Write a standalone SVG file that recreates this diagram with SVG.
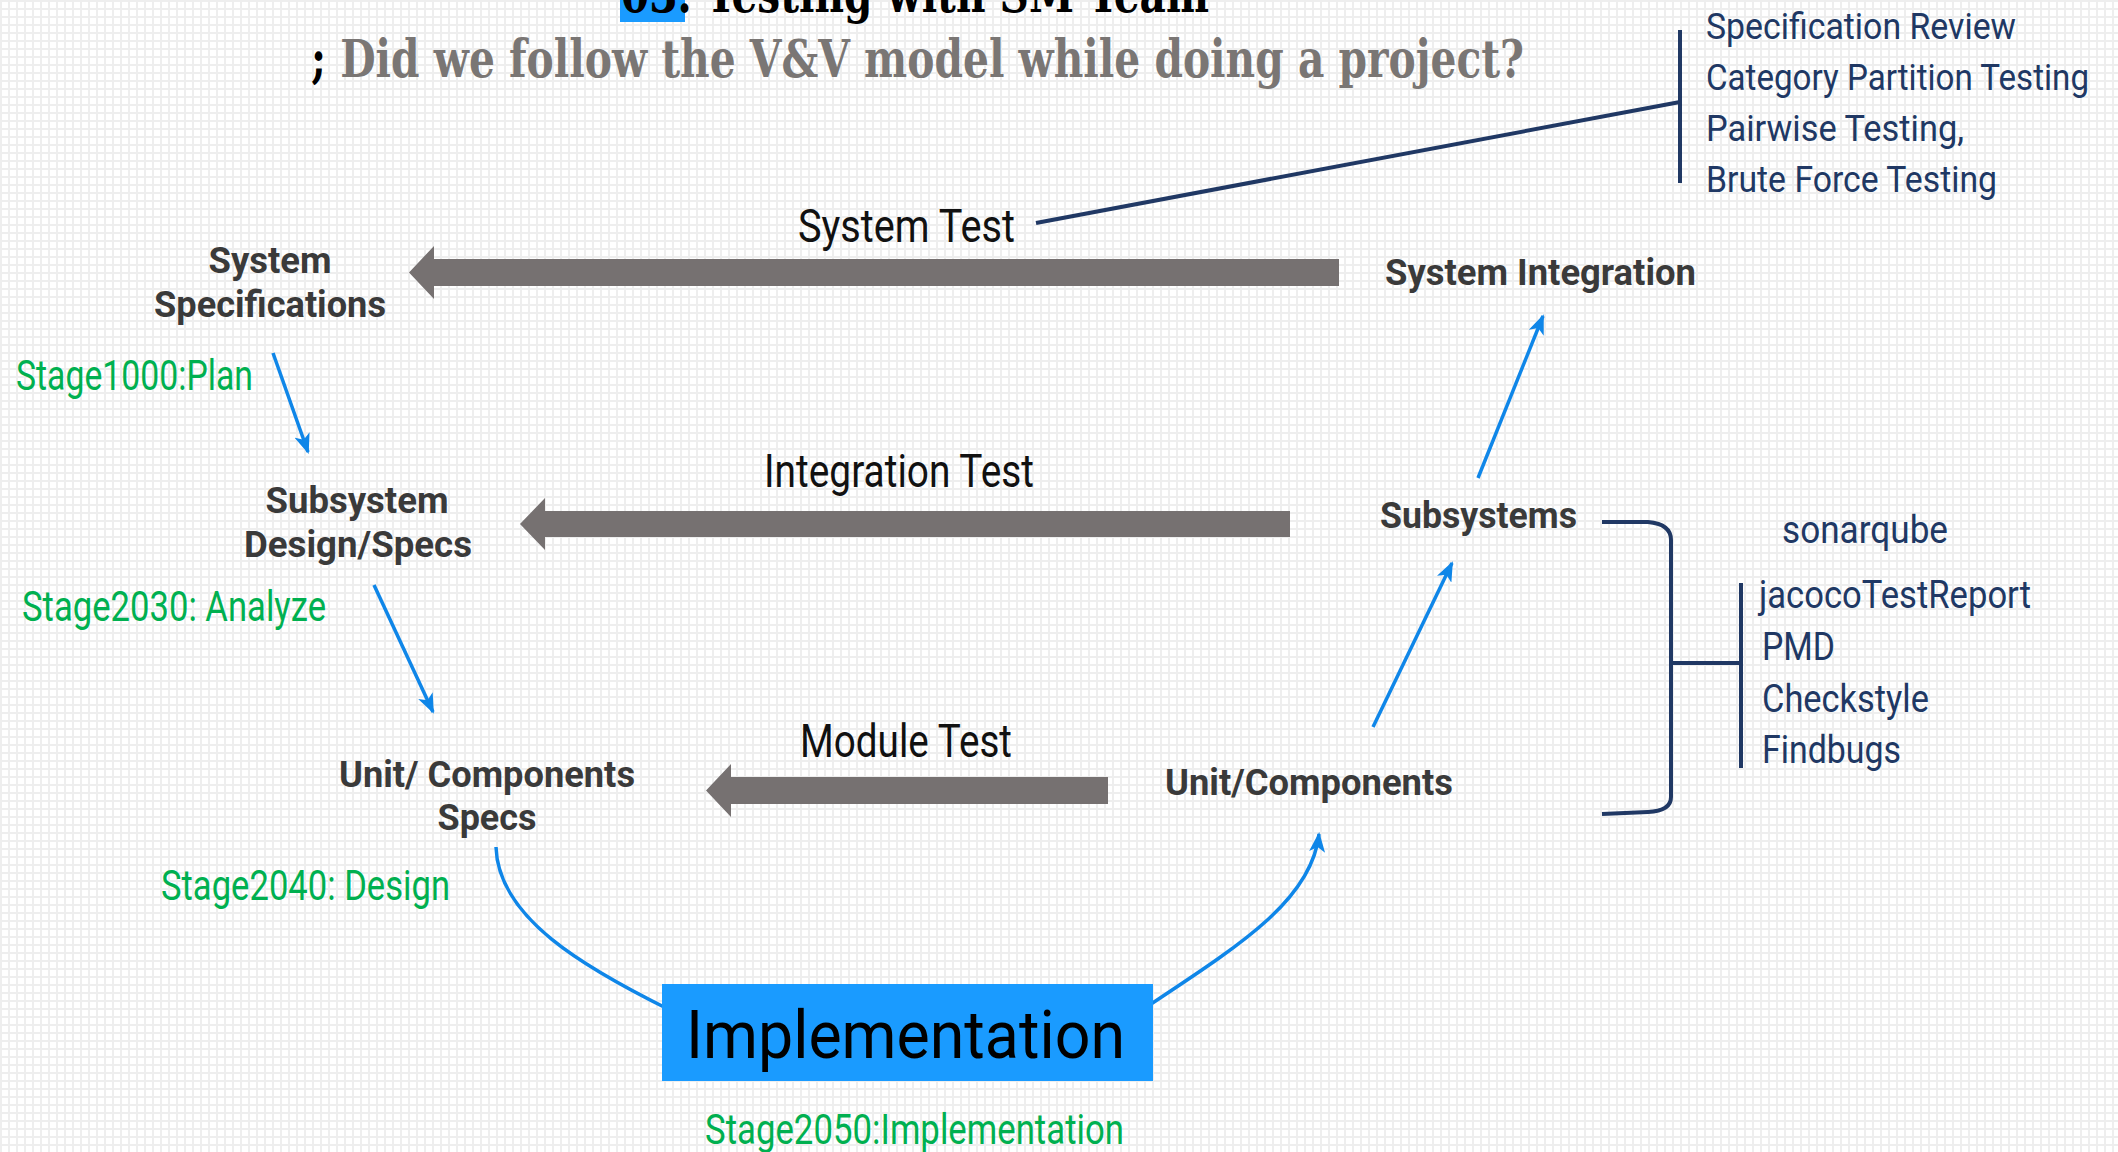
<svg xmlns="http://www.w3.org/2000/svg" width="2118" height="1152" viewBox="0 0 2118 1152">
<defs>
<pattern id="grid" width="8" height="8" patternUnits="userSpaceOnUse">
<rect width="8" height="8" fill="#ffffff"/>
<path d="M0,1 H8 M1,0 V8" stroke="#eeeeee" stroke-width="2" fill="none"/>
</pattern>
<marker id="bh" markerUnits="userSpaceOnUse" markerWidth="22" markerHeight="16" refX="18" refY="8" orient="auto">
<path d="M0,0 L20,8 L0,16 L5,8 Z" fill="#0f86e8"/>
</marker>
<style>
.node{font-family:Roboto,"Liberation Sans",sans-serif;font-weight:700;font-size:36px;fill:#3a3a3a;}
.test{font-family:Roboto,"Liberation Sans",sans-serif;font-size:47px;fill:#111111;}
.stage{font-family:Roboto,"Liberation Sans",sans-serif;font-size:42px;fill:#00b050;}
.navy{font-family:Roboto,"Liberation Sans",sans-serif;font-size:38px;fill:#203864;}
.list{font-size:36px;}
.blue{stroke:#0f86e8;stroke-width:3.5;fill:none;}
.navyline{stroke:#203864;stroke-width:4;fill:none;}
.gray{fill:#767171;}
</style>
</defs>
<rect width="2118" height="1152" fill="url(#grid)"/>

<g id="title">
<rect x="620" y="0" width="65" height="22" fill="#1a9bff"/>
<text x="621" y="12" font-family="'DejaVu Serif','Liberation Serif',serif" font-weight="700" font-size="52" fill="#000" textLength="588" lengthAdjust="spacingAndGlyphs">03. Testing with SM Team</text>
<text x="311" y="77" font-family="'DejaVu Serif','Liberation Serif',serif" font-weight="700" font-size="52" fill="#7a7674" textLength="1213" lengthAdjust="spacingAndGlyphs"><tspan fill="#000">;</tspan> Did we follow the V&amp;V model while doing a project?</text>
</g>

<g id="connectors">
<path class="gray" d="M1339,259 L434,259 L434,246 L409,272.5 L434,299 L434,286 L1339,286 Z"/>
<path class="gray" d="M1290,511 L545,511 L545,498 L520,524 L545,550 L545,537 L1290,537 Z"/>
<path class="gray" d="M1108,777 L731,777 L731,764 L706,790.5 L731,817 L731,804 L1108,804 Z"/>
<line class="blue" x1="273" y1="353" x2="308" y2="452" marker-end="url(#bh)"/>
<line class="blue" x1="374" y1="585" x2="433" y2="712" marker-end="url(#bh)"/>
<line class="blue" x1="1373" y1="727" x2="1452" y2="563" marker-end="url(#bh)"/>
<line class="blue" x1="1478" y1="478" x2="1543" y2="316" marker-end="url(#bh)"/>
<path class="blue" d="M496,847 C498,918 585,968 670,1010"/>
<path class="blue" d="M1145,1008 C1240,945 1312,900 1319,834" marker-end="url(#bh)"/>
<line class="navyline" x1="1036" y1="223" x2="1680" y2="102"/>
<line class="navyline" x1="1680" y1="30" x2="1680" y2="183"/>
<path class="navyline" d="M1602,522 L1648,522 Q1671,524 1671,540 L1671,797 Q1671,811 1648,812 L1602,814"/>
<line class="navyline" x1="1671" y1="663" x2="1741" y2="663"/>
<line class="navyline" x1="1741" y1="583" x2="1741" y2="768"/>
</g>

<g id="system-specifications">
<text class="node" x="270" y="273" text-anchor="middle" textLength="123" lengthAdjust="spacingAndGlyphs">System</text>
<text class="node" x="270" y="317" text-anchor="middle" textLength="232" lengthAdjust="spacingAndGlyphs">Specifications</text>
<text class="stage" x="16" y="390" textLength="237" lengthAdjust="spacingAndGlyphs">Stage1000:Plan</text>
</g>

<g id="subsystem-design">
<text class="node" x="357" y="513" text-anchor="middle" textLength="183" lengthAdjust="spacingAndGlyphs">Subsystem</text>
<text class="node" x="358" y="557" text-anchor="middle" textLength="228" lengthAdjust="spacingAndGlyphs">Design/Specs</text>
<text class="stage" x="22" y="621" textLength="304" lengthAdjust="spacingAndGlyphs">Stage2030: Analyze</text>
</g>

<g id="unit-specs">
<text class="node" x="487" y="787" text-anchor="middle" textLength="296" lengthAdjust="spacingAndGlyphs">Unit/ Components</text>
<text class="node" x="487" y="830" text-anchor="middle" textLength="99" lengthAdjust="spacingAndGlyphs">Specs</text>
<text class="stage" x="161" y="900" textLength="289" lengthAdjust="spacingAndGlyphs">Stage2040: Design</text>
</g>

<g id="implementation">
<rect x="662" y="984" width="491" height="97" fill="#1a9bff"/>
<text x="686" y="1058" font-family="Roboto,'Liberation Sans',sans-serif" font-size="66" fill="#000" textLength="439" lengthAdjust="spacingAndGlyphs">Implementation</text>
<text class="stage" x="705" y="1144" textLength="419" lengthAdjust="spacingAndGlyphs">Stage2050:Implementation</text>
</g>

<g id="unit-components">
<text class="node" x="1165" y="795" textLength="288" lengthAdjust="spacingAndGlyphs">Unit/Components</text>
</g>

<g id="subsystems">
<text class="node" x="1380" y="528" font-weight="600" textLength="197" lengthAdjust="spacingAndGlyphs">Subsystems</text>
</g>

<g id="system-integration">
<text class="node" x="1385" y="285" textLength="311" lengthAdjust="spacingAndGlyphs">System Integration</text>
</g>

<g id="test-labels">
<text class="test" x="798" y="242" textLength="217" lengthAdjust="spacingAndGlyphs">System Test</text>
<text class="test" x="764" y="487" textLength="270" lengthAdjust="spacingAndGlyphs">Integration Test</text>
<text class="test" x="800" y="757" textLength="212" lengthAdjust="spacingAndGlyphs">Module Test</text>
</g>

<g id="system-test-methods">
<text class="navy list" x="1706" y="39" textLength="310" lengthAdjust="spacingAndGlyphs">Specification Review</text>
<text class="navy list" x="1706" y="90" textLength="383" lengthAdjust="spacingAndGlyphs">Category Partition Testing</text>
<text class="navy list" x="1706" y="141" textLength="258" lengthAdjust="spacingAndGlyphs">Pairwise Testing,</text>
<text class="navy list" x="1706" y="192" textLength="291" lengthAdjust="spacingAndGlyphs">Brute Force Testing</text>
</g>

<g id="tools">
<text class="navy" x="1782" y="543" font-size="40" textLength="166" lengthAdjust="spacingAndGlyphs">sonarqube</text>
<text class="navy" x="1759" y="608" textLength="272" lengthAdjust="spacingAndGlyphs">jacocoTestReport</text>
<text class="navy" x="1762" y="660" textLength="73" lengthAdjust="spacingAndGlyphs">PMD</text>
<text class="navy" x="1762" y="712" textLength="167" lengthAdjust="spacingAndGlyphs">Checkstyle</text>
<text class="navy" x="1762" y="763" textLength="139" lengthAdjust="spacingAndGlyphs">Findbugs</text>
</g>
</svg>
